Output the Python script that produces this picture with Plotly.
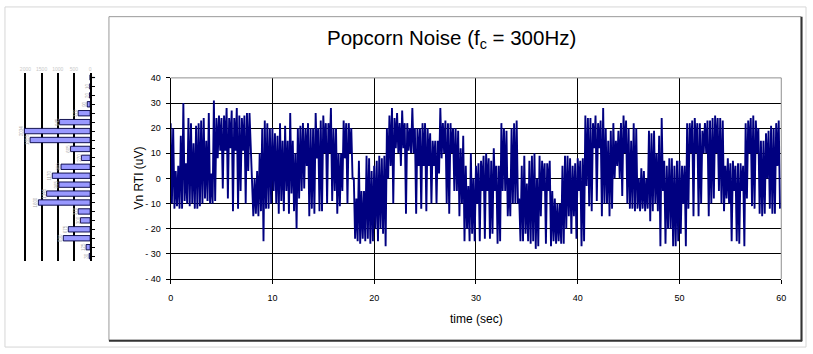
import numpy as np
import plotly.graph_objects as go

# ---------------- data ----------------
# Popcorn-noise trace: per 0.25 s column -> (high, low) extremes, uV
# each row = one second: hi, lo, hi, lo, hi, lo, hi, lo
sig_00_10 = [
    [22, -10, 20, -12, 3, -11, 5, -12],
    [17, -12, 30, -9, 6, -10, 24, -11],
    [22, -10, 14, -12, 21, -12, 22, -11],
    [23, -10, 24, -8, 15, -9, 26, -10],
    [2, -10, 31, -9, 24, 8, 25, 11],
    [24, -4, 25, 11, 28, -8, 24, 12],
    [27, -13, 24, 11, 28, -12, 25, -5],
    [24, 11, 25, -10, 26, 3, 26, 12],
    [2, -15, 0, -14, 3, -15, 10, -13],
    [20, -25, 23, -12, 22, -12, 20, -10],
]
sig_10_20 = [
    [20, -5, 18, -10, 17, -14, 22, -9],
    [15, -13, 21, -5, 15, -14, 26, -6],
    [15, -13, 10, -20, 20, -8, 21, -5],
    [22, -4, 20, 5, 22, -15, 20, -12],
    [20, -14, 26, 8, 20, -13, 23, -13],
    [25, 10, 22, -10, 22, 10, 28, -9],
    [20, -5, 20, -14, 10, -11, 10, -5],
    [23, 8, 22, -10, 22, 10, 20, 0],
    [0, -24, -8, -25, 7, -26, -5, -24],
    [-5, -25, 9, -24, 8, -26, 3, -25],
]
sig_20_30 = [
    [5, -20, 7, -25, 9, -20, 8, -22],
    [9, -27, 20, 0, 25, 5, 28, -10],
    [24, 12, 26, 10, 22, 5, 27, 12],
    [22, -14, 22, 11, 20, 10, 28, 10],
    [20, -14, 20, 5, 20, -12, 22, 5],
    [22, -13, 20, 5, 18, -10, 15, 5],
    [15, -10, 15, 2, 28, 8, 22, 10],
    [23, -10, 22, -14, 22, 10, 20, -5],
    [20, -5, 19, -15, 12, -10, 17, -25],
    [5, -20, -3, -25, 10, -22, 0, -25],
]
sig_30_40 = [
    [5, -10, 6, -25, 7, -5, 9, -24],
    [10, -5, 8, -24, 7, -22, 12, -5],
    [5, -26, 5, -25, 22, -5, 20, -5],
    [19, -15, 0, -15, 20, -10, 22, -10],
    [23, -10, -8, -25, 5, -25, 9, -22],
    [-2, -25, 7, -26, 9, -25, 10, -28],
    [0, -27, 9, -15, 7, -5, 6, -26],
    [6, -5, 7, -27, -5, -25, -8, -26],
    [-10, -25, -10, -26, 5, -26, 9, -20],
    [9, -15, 8, -22, 5, -15, 6, -24],
]
sig_40_50 = [
    [8, -5, 7, -27, 8, -25, 25, -3],
    [24, -11, 24, -13, 22, 12, 25, -9],
    [22, 12, 23, -15, 28, -10, 20, -10],
    [15, -15, 19, -12, 22, 0, 15, 5],
    [19, 0, 22, -7, 25, 10, 23, -10],
    [20, -12, 15, -12, 22, -13, 20, -12],
    [0, -13, 4, -12, 3, -13, 0, -12],
    [19, -17, 18, -13, 19, -10, 10, -13],
    [17, -27, 24, -5, 7, -26, 5, -20],
    [8, -20, 8, -27, 5, -27, 7, -25],
]
sig_50_60 = [
    [7, -22, 5, -10, 5, -27, 22, -12],
    [22, 10, 23, -15, 24, 10, 22, -15],
    [22, -10, 19, 10, 22, 10, 23, -15],
    [23, -10, 24, -8, 25, 10, 24, -5],
    [24, -10, 23, -13, 5, -8, 8, -10],
    [6, -25, 7, -5, 5, -25, 6, -26],
    [6, -5, 5, -27, 22, -8, 23, 10],
    [24, -11, 25, -12, 23, 10, 20, -14],
    [15, -15, 15, -14, 18, 0, 19, -12],
    [21, -14, 20, -14, 22, 5, 23, -12],
]
sample_dt = 0.125  # seconds between listed samples

# amplitude histogram (left inset), bins top -> bottom
hist_bins = list(range(21))
hist_counts = [0, 10, 20, 90, 370, 945, 2034, 1855, 605, 270, 900,
               1170, 965, 1345, 1600, 370, 300, 675, 830, 125, 30]

x_ticks = [0, 10, 20, 30, 40, 50, 60]
y_ticks = [40, 30, 20, 10, 0, -10, -20, -30, -40]
y_ticktext = ["40", "30", "20", "10", "0", "- 10", "- 20", "- 30", "- 40"]
title_text = "Popcorn Noise (f<sub>c</sub> = 300Hz)"
x_title = "time (sec)"
y_title = "Vn RTI (uV)"

# ---------------- build ----------------
signal = [v for block in (sig_00_10, sig_10_20, sig_20_30, sig_30_40, sig_40_50, sig_50_60)
          for row in block for v in row]
t = np.arange(len(signal)) * sample_dt

W, H = 813, 354
def fx(p):
    return p / W
def fy(p):
    return 1 - p / H

FONT = "Liberation Sans, Arial, sans-serif"
fig = go.Figure()

fig.add_trace(go.Scatter(
    x=t, y=signal, mode="lines",
    line=dict(color="#000080", width=1.9),
    xaxis="x", yaxis="y", hoverinfo="skip", showlegend=False))

fig.add_trace(go.Bar(
    x=hist_counts, y=hist_bins, orientation="h", width=0.6,
    marker=dict(color="#9999FF", line=dict(color="#000040", width=0.9)),
    text=[str(c) for c in hist_counts],
    textposition="outside", textangle=-90, cliponaxis=False,
    textfont=dict(size=5, color="#a8a8a8", family=FONT),
    xaxis="x2", yaxis="y2", hoverinfo="skip", showlegend=False))

px0, px1 = 169.3, 786.0
py_top, py_bot = 75.0, 282.0

fig.update_layout(
    width=W, height=H,
    margin=dict(l=0, r=0, t=0, b=0),
    paper_bgcolor="white", plot_bgcolor="white",
    font=dict(family=FONT, color="black"),
    showlegend=False,
    xaxis=dict(
        domain=[fx(px0), fx(px1)], range=[0, 60],
        tickvals=x_ticks, ticks="outside", ticklen=4, tickcolor="black",
        tickfont=dict(size=9), ticklabelstandoff=6,
        showgrid=True, gridcolor="black", gridwidth=1,
        showline=True, linecolor="black", linewidth=1, zeroline=False,
        anchor="y"),
    yaxis=dict(
        domain=[fy(py_bot), fy(py_top)], range=[-40, 40],
        tickvals=y_ticks, ticktext=y_ticktext, ticks="outside", ticklen=4,
        tickcolor="black", tickfont=dict(size=9), ticklabelstandoff=3,
        showgrid=True, gridcolor="black", gridwidth=1, showline=True,
        linecolor="black", linewidth=1, zeroline=False, anchor="x"),
    xaxis2=dict(
        domain=[fx(19.7), fx(88)], range=[2090, 0],
        tickvals=[0, 500, 1000, 1500, 2000], side="top",
        showticklabels=True, tickfont=dict(size=5, color="#c8c8c8"),
        showgrid=True, gridcolor="black", gridwidth=1.5,
        showline=False, zeroline=False, anchor="y2"),
    yaxis2=dict(
        domain=[fy(263), fy(70)], range=[20.5, -0.5],
        tickvals=hist_bins, showticklabels=False, ticks="outside",
        ticklen=3, tickcolor="black", side="right", showgrid=False,
        showline=True, linecolor="black", linewidth=1.5, zeroline=False,
        anchor="x2"),
)

shapes = [
    # outer light frame
    dict(type="rect", xref="paper", yref="paper", x0=fx(2), x1=fx(811),
         y0=fy(352), y1=fy(2), line=dict(color="#d6d6d6", width=1)),
    # chart box
    dict(type="rect", xref="paper", yref="paper", x0=fx(107), x1=fx(806),
         y0=fy(345), y1=fy(12), line=dict(color="#9a9a9a", width=1)),
    # shadow right / bottom
    dict(type="line", xref="paper", yref="paper", x0=fx(806.5), x1=fx(806.5),
         y0=fy(346), y1=fy(12), line=dict(color="#333333", width=2)),
    dict(type="line", xref="paper", yref="paper", x0=fx(107), x1=fx(807),
         y0=fy(345.5), y1=fy(345.5), line=dict(color="#333333", width=2)),
    # plot-area border (top / right, grey)
    dict(type="line", xref="paper", yref="paper", x0=fx(px0), x1=fx(px1),
         y0=fy(py_top), y1=fy(py_top), line=dict(color="#909090", width=1)),
    dict(type="line", xref="paper", yref="paper", x0=fx(px1), x1=fx(px1),
         y0=fy(py_bot), y1=fy(py_top), line=dict(color="#909090", width=1)),
]
fig.update_layout(shapes=shapes)

fig.add_annotation(text=title_text, xref="paper", yref="paper",
                   x=fx(453), y=fy(35), showarrow=False,
                   font=dict(size=20.5, family=FONT), xanchor="center", yanchor="middle")
fig.add_annotation(text=x_title, xref="paper", yref="paper",
                   x=fx(478), y=fy(323), showarrow=False,
                   font=dict(size=12, family=FONT), xanchor="center", yanchor="middle")
fig.add_annotation(text=y_title, xref="paper", yref="paper",
                   x=fx(137), y=fy(178), showarrow=False, textangle=-90,
                   font=dict(size=12, family=FONT), xanchor="center", yanchor="middle")

fig.write_html("out.html")
